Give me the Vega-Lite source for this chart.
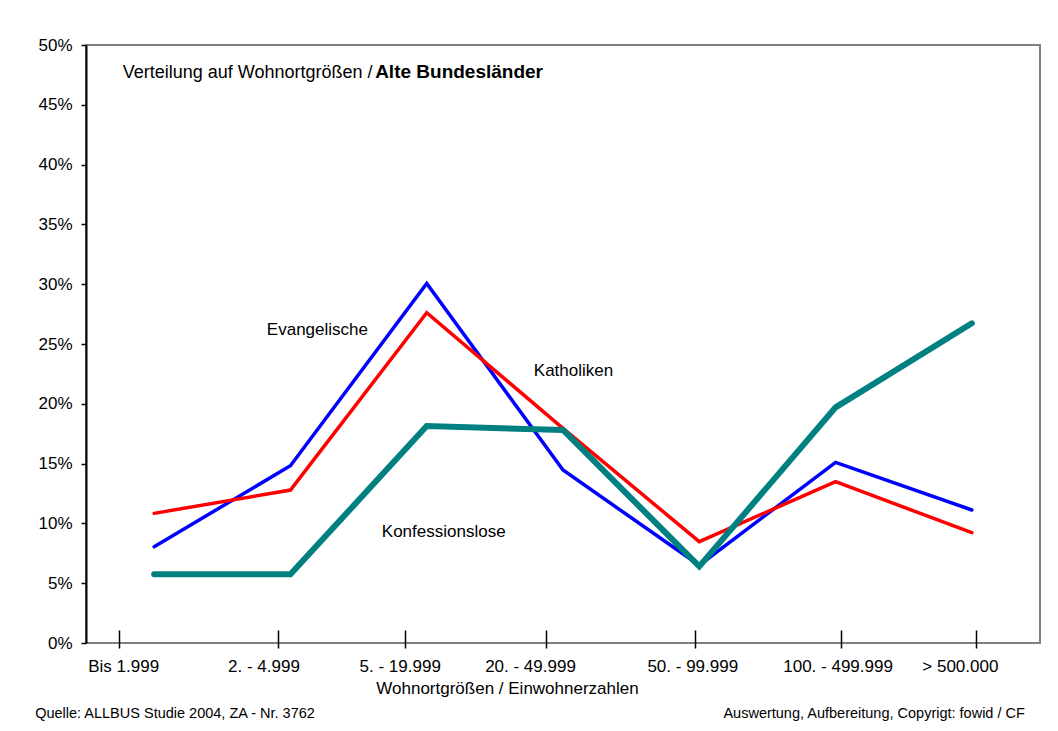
{
  "$schema": "https://vega.github.io/schema/vega-lite/v6.json",
  "width": 954,
  "height": 598,
  "autosize": {"type": "none"},
  "padding": {"left": 86, "top": 45, "right": 18, "bottom": 88},
  "background": "white",
  "config": {
    "font": "Liberation Sans",
    "view": {"stroke": "#808080", "strokeWidth": 2},
    "axis": {"grid": false, "labelFont": "Liberation Sans", "titleFont": "Liberation Sans", "labelColor": "black", "titleColor": "black"}
  },
  "resolve": {"axis": {"x": "independent"}},
  "datasets": {
    "series": [
      {"cat": "Bis 1.999", "group": "Evangelische", "pct": 8.05},
      {"cat": "2. - 4.999", "group": "Evangelische", "pct": 14.82},
      {"cat": "5. - 19.999", "group": "Evangelische", "pct": 30.07},
      {"cat": "20. - 49.999", "group": "Evangelische", "pct": 14.46},
      {"cat": "50. - 99.999", "group": "Evangelische", "pct": 6.5},
      {"cat": "100. - 499.999", "group": "Evangelische", "pct": 15.1},
      {"cat": "> 500.000", "group": "Evangelische", "pct": 11.12},
      {"cat": "Bis 1.999", "group": "Katholiken", "pct": 10.84},
      {"cat": "2. - 4.999", "group": "Katholiken", "pct": 12.79},
      {"cat": "5. - 19.999", "group": "Katholiken", "pct": 27.62},
      {"cat": "20. - 49.999", "group": "Katholiken", "pct": 17.95},
      {"cat": "50. - 99.999", "group": "Katholiken", "pct": 8.47},
      {"cat": "100. - 499.999", "group": "Katholiken", "pct": 13.49},
      {"cat": "> 500.000", "group": "Katholiken", "pct": 9.22},
      {"cat": "Bis 1.999", "group": "Konfessionslose", "pct": 5.74},
      {"cat": "2. - 4.999", "group": "Konfessionslose", "pct": 5.74},
      {"cat": "5. - 19.999", "group": "Konfessionslose", "pct": 18.14},
      {"cat": "20. - 49.999", "group": "Konfessionslose", "pct": 17.81},
      {"cat": "50. - 99.999", "group": "Konfessionslose", "pct": 6.4},
      {"cat": "100. - 499.999", "group": "Konfessionslose", "pct": 19.7},
      {"cat": "> 500.000", "group": "Konfessionslose", "pct": 26.73}
    ]
  },
  "layer": [
    {
      "data": {"name": "series"},
      "mark": {"type": "line", "strokeCap": "round"},
      "encoding": {
        "x": {
          "field": "cat", "type": "nominal",
          "sort": ["Bis 1.999", "2. - 4.999", "5. - 19.999", "20. - 49.999", "50. - 99.999", "100. - 499.999", "> 500.000"],
          "scale": {"type": "point", "padding": 0.5, "domain": ["Bis 1.999", "2. - 4.999", "5. - 19.999", "20. - 49.999", "50. - 99.999", "100. - 499.999", "> 500.000"]},
          "axis": {
            "orient": "bottom",
            "title": "Wohnortgrößen / Einwohnerzahlen",
            "titleFontSize": 17, "titleFontWeight": "normal",
            "titleX": 421, "titleY": 50, "titleBaseline": "alphabetic", "titleAlign": "center",
            "labelAngle": 0, "labelFontSize": 17, "labelPadding": 10,
            "domain": false, "tickColor": "black", "tickWidth": 1.5, "tickSize": 5,
            "tickOffset": {"expr": "[-35,-12,-22,-17,-4,5,4][indexof(['Bis 1.999','2. - 4.999','5. - 19.999','20. - 49.999','50. - 99.999','100. - 499.999','> 500.000'], datum.value)]"},
            "labelOffset": {"expr": "[4,-15,-5,-16,-3,-3,-16][indexof(['Bis 1.999','2. - 4.999','5. - 19.999','20. - 49.999','50. - 99.999','100. - 499.999','> 500.000'], datum.value)]"}
          }
        },
        "y": {
          "field": "pct", "type": "quantitative",
          "scale": {"domain": [0, 50], "nice": false, "zero": true},
          "axis": {
            "title": null, "values": [0, 5, 10, 15, 20, 25, 30, 35, 40, 45, 50],
            "labelExpr": "datum.value + '%'", "labelFontSize": 17, "labelPadding": 9,
            "tickSize": 5, "tickColor": "black", "tickWidth": 1.5,
            "domainColor": "black", "domainWidth": 2
          }
        },
        "color": {
          "field": "group", "type": "nominal",
          "scale": {"domain": ["Evangelische", "Katholiken", "Konfessionslose"], "range": ["#0000FF", "#FF0000", "#008080"]},
          "legend": null
        },
        "strokeWidth": {
          "field": "group", "type": "nominal",
          "scale": {"type": "ordinal", "domain": ["Evangelische", "Katholiken", "Konfessionslose"], "range": [3.5, 3.5, 6]},
          "legend": null
        }
      }
    },
    {
      "data": {"values": [{}]},
      "mark": {"type": "text", "text": "Verteilung auf Wohnortgrößen / ", "align": "left", "baseline": "alphabetic", "fontSize": 18, "dx": -31.4, "font": "Liberation Sans", "color": "black"},
      "encoding": {"x": {"datum": "Bis 1.999", "type": "nominal", "axis": null}, "y": {"datum": 47.22, "type": "quantitative"}}
    },
    {
      "data": {"values": [{}]},
      "mark": {"type": "text", "text": "Alte Bundesländer", "align": "left", "baseline": "alphabetic", "fontSize": 19, "fontWeight": "bold", "dx": 221, "font": "Liberation Sans", "color": "black"},
      "encoding": {"x": {"datum": "Bis 1.999", "type": "nominal", "axis": null}, "y": {"datum": 47.22, "type": "quantitative"}}
    },
    {
      "data": {"values": [{}]},
      "mark": {"type": "text", "text": "Evangelische", "align": "center", "baseline": "middle", "fontSize": 17, "dx": 27, "font": "Liberation Sans", "color": "black"},
      "encoding": {"x": {"datum": "2. - 4.999", "type": "nominal", "axis": null}, "y": {"datum": 26.17, "type": "quantitative"}}
    },
    {
      "data": {"values": [{}]},
      "mark": {"type": "text", "text": "Katholiken", "align": "center", "baseline": "middle", "fontSize": 17, "dx": 10.5, "font": "Liberation Sans", "color": "black"},
      "encoding": {"x": {"datum": "20. - 49.999", "type": "nominal", "axis": null}, "y": {"datum": 22.78, "type": "quantitative"}}
    },
    {
      "data": {"values": [{}]},
      "mark": {"type": "text", "text": "Konfessionslose", "align": "center", "baseline": "middle", "fontSize": 17, "dx": 17, "font": "Liberation Sans", "color": "black"},
      "encoding": {
        "x": {"datum": "5. - 19.999", "type": "nominal",
          "axis": {
            "orient": "bottom", "labels": false, "title": null, "domain": false,
            "tickSize": -13, "tickColor": "black", "tickWidth": 1.5,
            "tickOffset": {"expr": "[-35,-12,-22,-17,-4,5,4][indexof(['Bis 1.999','2. - 4.999','5. - 19.999','20. - 49.999','50. - 99.999','100. - 499.999','> 500.000'], datum.value)]"}
          }
        },
        "y": {"datum": 9.32, "type": "quantitative"}
      }
    },
    {
      "data": {"values": [{}]},
      "mark": {"type": "text", "text": "Quelle: ALLBUS Studie 2004, ZA - Nr. 3762", "align": "left", "baseline": "alphabetic", "fontSize": 14.5, "dx": -119, "font": "Liberation Sans", "color": "black"},
      "encoding": {"x": {"datum": "Bis 1.999", "type": "nominal", "axis": null}, "y": {"datum": -6.27, "type": "quantitative"}}
    },
    {
      "data": {"values": [{}]},
      "mark": {"type": "text", "text": "Auswertung, Aufbereitung, Copyrigt: fowid / CF", "align": "right", "baseline": "alphabetic", "fontSize": 14.5, "dx": 53, "font": "Liberation Sans", "color": "black"},
      "encoding": {"x": {"datum": "> 500.000", "type": "nominal", "axis": null}, "y": {"datum": -6.27, "type": "quantitative"}}
    }
  ]
}
